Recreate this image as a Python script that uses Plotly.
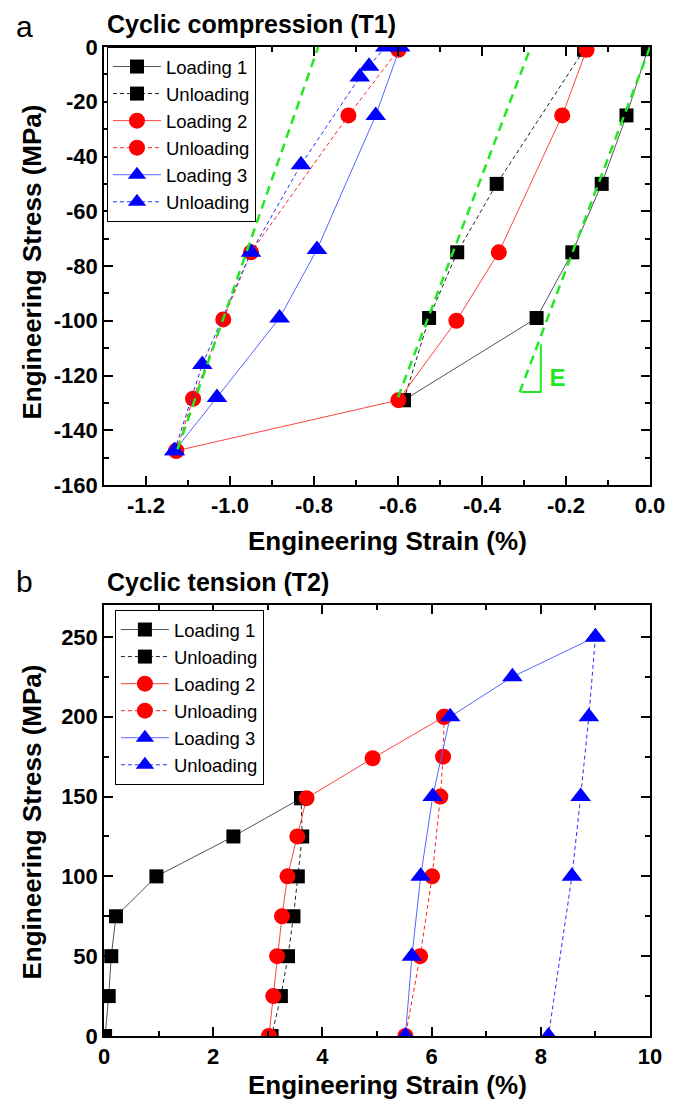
import plotly.graph_objects as go

# ---------------- Data: (a) cyclic compression (T1) ----------------
a_load1_x = [-0.005, -0.056, -0.115, -0.185, -0.270, -0.586]
a_load1_y = [-0.8, -25, -50, -75, -99, -129]
a_unload1_x = [-0.586, -0.526, -0.459, -0.365, -0.157]
a_unload1_y = [-129, -99, -75, -50, -1]
a_load2_x = [-0.151, -0.209, -0.360, -0.461, -0.599, -1.128]
a_load2_y = [-1, -25, -75, -100, -129, -147.5]
a_unload2_x = [-1.128, -1.088, -1.016, -0.950, -0.718, -0.599]
a_unload2_y = [-147.5, -128.5, -99.5, -75, -25, -1]
a_load3_x = [-0.595, -0.653, -0.793, -0.882, -1.031, -1.132]
a_load3_y = [0, -25, -74, -99, -128, -147.5]
a_unload3_x = [-1.132, -1.066, -0.950, -0.831, -0.691, -0.669, -0.630]
a_unload3_y = [-147.5, -116, -75, -43, -11, -7, 0]
# elastic-modulus guide lines (E)
a_e1_x = [0.0, -0.315]
a_e1_y = [0, -128]
a_e2_x = [-0.600, -0.284]
a_e2_y = [-128, 0]
a_e3_x = [-1.125, -0.790]
a_e3_y = [-147, 0]
a_etri_x = [-0.306, -0.260, -0.260]
a_etri_y = [-126, -126, -108.6]
a_elabel_x = [-0.220]
a_elabel_y = [-121.5]

a_xticks = [-1.2, -1.0, -0.8, -0.6, -0.4, -0.2, 0.0]
a_xticklabels = ["-1.2", "-1.0", "-0.8", "-0.6", "-0.4", "-0.2", "0.0"]
a_yticks = [0, -20, -40, -60, -80, -100, -120, -140, -160]
a_yticklabels = ["0", "-20", "-40", "-60", "-80", "-100", "-120", "-140", "-160"]

# ---------------- Data: (b) cyclic tension (T2) ----------------
b_load1_x = [0.02, 0.086, 0.133, 0.219, 0.96, 2.37, 3.61]
b_load1_y = [0, 25, 50, 75, 100, 125, 149]
b_unload1_x = [3.61, 3.63, 3.55, 3.47, 3.37, 3.24, 3.07]
b_unload1_y = [149, 125, 100, 75, 50, 25, 0]
b_load2_x = [3.02, 3.10, 3.17, 3.26, 3.36, 3.54, 3.71, 4.92, 6.23]
b_load2_y = [0, 25, 50, 75, 100, 125, 149, 174, 200]
b_unload2_x = [6.23, 6.21, 6.16, 6.01, 5.79, 5.52]
b_unload2_y = [200, 175, 150, 100, 50, 0]
b_load3_x = [5.52, 5.64, 5.80, 6.02, 6.34, 7.48, 9.00]
b_load3_y = [0, 50, 100, 150, 200, 225, 250]
b_unload3_x = [9.00, 8.88, 8.73, 8.57, 8.14]
b_unload3_y = [250, 200, 150, 100, 0]

b_xticks = [0, 2, 4, 6, 8, 10]
b_yticks = [0, 50, 100, 150, 200, 250]

FONT = "Liberation Sans, Arial, Helvetica, sans-serif"
BLACK = "#000000"
RED = "#ff0000"
BLUE = "#0000ff"
GREEN = "#22e822"

fig = go.Figure()


def add_series(x, y, color, linecolor, symbol, msize, dash, name, xa, ya, legend):
    fig.add_trace(go.Scatter(
        x=x, y=y, mode="lines+markers", name=name,
        line=dict(color=linecolor, width=1, dash=dash),
        marker=dict(color=color, symbol=symbol, size=msize, line=dict(width=0)),
        xaxis=xa, yaxis=ya, legend=legend,
    ))


DASH = "4px,3px"
series_a = [
    (a_load1_x, a_load1_y, BLACK, "#555555", "square", 14, "solid", "Loading 1"),
    (a_unload1_x, a_unload1_y, BLACK, "#222222", "square", 14, DASH, "Unloading"),
    (a_load2_x, a_load2_y, RED, "#ff4444", "circle", 16, "solid", "Loading 2"),
    (a_unload2_x, a_unload2_y, RED, "#ff2222", "circle", 16, DASH, "Unloading"),
    (a_load3_x, a_load3_y, BLUE, "#5566ff", "triangle-up", 18, "solid", "Loading 3"),
    (a_unload3_x, a_unload3_y, BLUE, "#2233ff", "triangle-up", 18, DASH, "Unloading"),
]
for s in series_a:
    add_series(*s, "x", "y", "legend")

series_b = [
    (b_load1_x, b_load1_y, BLACK, "#555555", "square", 14, "solid", "Loading 1"),
    (b_unload1_x, b_unload1_y, BLACK, "#222222", "square", 14, DASH, "Unloading"),
    (b_load2_x, b_load2_y, RED, "#ff4444", "circle", 16, "solid", "Loading 2"),
    (b_unload2_x, b_unload2_y, RED, "#ff2222", "circle", 16, DASH, "Unloading"),
    (b_load3_x, b_load3_y, BLUE, "#5566ff", "triangle-up", 18, "solid", "Loading 3"),
    (b_unload3_x, b_unload3_y, BLUE, "#2233ff", "triangle-up", 18, DASH, "Unloading"),
]
for s in series_b:
    add_series(*s, "x2", "y2", "legend2")

# green E lines on top
for gx, gy in [(a_e1_x, a_e1_y), (a_e2_x, a_e2_y), (a_e3_x, a_e3_y)]:
    fig.add_trace(go.Scatter(x=gx, y=gy, mode="lines", showlegend=False,
                             line=dict(color=GREEN, width=2.5, dash="9px,6px"),
                             xaxis="x", yaxis="y", hoverinfo="skip"))
fig.add_trace(go.Scatter(x=a_etri_x, y=a_etri_y, mode="lines", showlegend=False,
                         line=dict(color=GREEN, width=2), xaxis="x", yaxis="y",
                         hoverinfo="skip"))
fig.add_trace(go.Scatter(x=a_elabel_x, y=a_elabel_y, mode="text", text=["E"],
                         textfont=dict(family=FONT, size=24, color=GREEN, weight="bold"),
                         showlegend=False, xaxis="x", yaxis="y", hoverinfo="skip"))

axis_common = dict(
    showline=True, linecolor="black", linewidth=1.5, mirror="ticks",
    ticks="inside", ticklen=9, tickwidth=1.5, tickcolor="black",
    showgrid=False, zeroline=False,
    tickfont=dict(family=FONT, size=22, color="black", weight="bold"),
)

# page has an 8px body margin; figure is sized so the page is 685 x 1109
W, H = 669, 1093
OFF = 8
top_px, bot_a, top_b, bot_px = 47, 485, 605, 1036  # page pixel positions
span = bot_px - top_px


def py(p):
    return (bot_px - p) / span


def pxx(p):
    return (p - 104) / 550


fig.update_layout(
    width=W, height=H,
    margin=dict(l=104 - OFF, r=W - (654 - OFF), t=top_px - OFF, b=H - (bot_px - OFF)),
    paper_bgcolor="white", plot_bgcolor="white",
    font=dict(family=FONT, color="black"),
    xaxis=dict(axis_common, domain=[0, 1], anchor="y", range=[-1.3, 0],
               tickmode="array", tickvals=a_xticks, ticktext=a_xticklabels,
               minor=dict(ticks="inside", ticklen=5, tickwidth=1.5, tickcolor="black", dtick=0.1, tick0=0)),
    yaxis=dict(axis_common, domain=[py(bot_a), 1], anchor="x", range=[-160, 0],
               tickmode="array", tickvals=a_yticks, ticktext=a_yticklabels,
               minor=dict(ticks="inside", ticklen=5, tickwidth=1.5, tickcolor="black", dtick=10, tick0=0)),
    xaxis2=dict(axis_common, domain=[0, 1], anchor="y2", range=[0, 10],
                tickmode="array", tickvals=b_xticks,
                minor=dict(ticks="inside", ticklen=5, tickwidth=1.5, tickcolor="black", dtick=1, tick0=0)),
    yaxis2=dict(axis_common, domain=[0, py(top_b)], anchor="x2", range=[0, 270],
                tickmode="array", tickvals=b_yticks,
                minor=dict(ticks="inside", ticklen=5, tickwidth=1.5, tickcolor="black", dtick=25, tick0=0)),
    legend=dict(x=pxx(107), y=1, xanchor="left", yanchor="top",
                bgcolor="white", bordercolor="black", borderwidth=1,
                font=dict(family=FONT, size=18.5, color="black"), itemwidth=48,
                tracegroupgap=0),
    legend2=dict(x=pxx(115), y=py(610), xanchor="left", yanchor="top",
                 bgcolor="white", bordercolor="black", borderwidth=1,
                 font=dict(family=FONT, size=18.5, color="black"), itemwidth=48,
                 tracegroupgap=0),
    showlegend=True,
)

ann = []
# axis titles
for (xc, yc, txt, ang) in [
    (pxx(390), py(541), "Engineering Strain (%)", 0),
    (pxx(390), py(1085), "Engineering Strain (%)", 0),
    (pxx(31), py(262), "Engineering Stress (MPa)", -90),
    (pxx(31), py(822), "Engineering Stress (MPa)", -90),
]:
    ann.append(dict(x=xc, y=yc, xref="paper", yref="paper", text=txt, showarrow=False,
                    textangle=ang, xanchor="center", yanchor="middle",
                    font=dict(family=FONT, size=26, color="black", weight="bold")))
# panel titles and labels
ann.append(dict(x=pxx(105), y=py(OFF), xref="paper", yref="paper",
                text="Cyclic compression (T1)", showarrow=False, xanchor="left", yanchor="top",
                font=dict(family=FONT, size=25, color="black", weight="bold")))
ann.append(dict(x=pxx(105), y=py(582), xref="paper", yref="paper",
                text="Cyclic tension (T2)", showarrow=False, xanchor="left", yanchor="middle",
                font=dict(family=FONT, size=25, color="black", weight="bold")))
ann.append(dict(x=pxx(13), y=py(OFF), xref="paper", yref="paper",
                text="a", showarrow=False, xanchor="left", yanchor="top",
                font=dict(family=FONT, size=30, color="black")))
ann.append(dict(x=pxx(13), y=py(581), xref="paper", yref="paper",
                text="b", showarrow=False, xanchor="left", yanchor="middle",
                font=dict(family=FONT, size=30, color="black")))
fig.update_layout(annotations=ann)

fig.write_html("out.html")
